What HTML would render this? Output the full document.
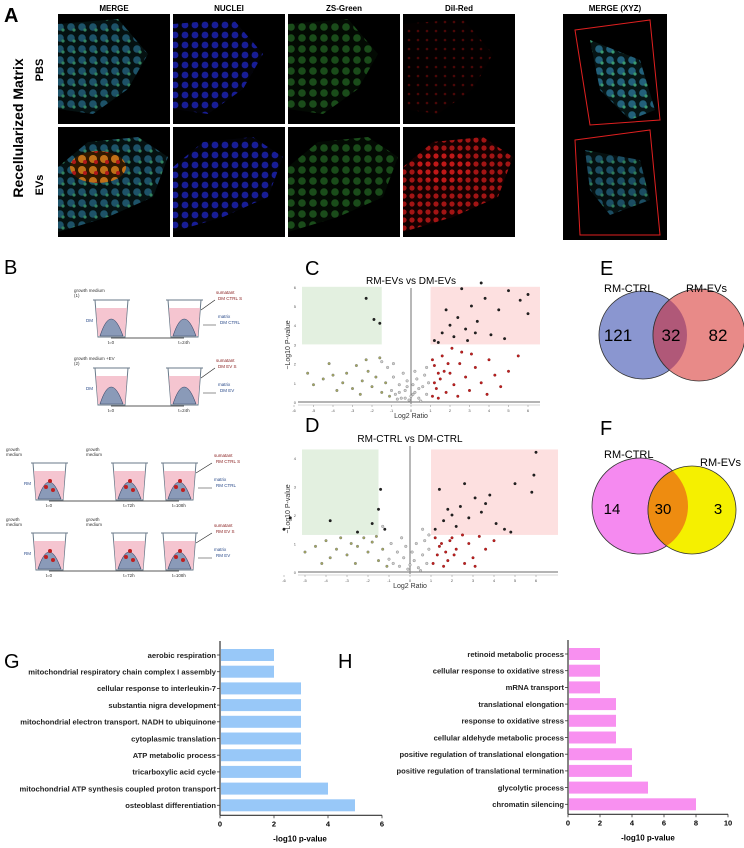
<!DOCTYPE html>
<html><head><meta charset="utf-8"><style>
html,body{margin:0;padding:0;background:#fff;width:744px;height:848px;overflow:hidden}
svg{display:block;font-family:"Liberation Sans",Arial,sans-serif}
</style></head><body>
<svg id="fig" width="744" height="848" viewBox="0 0 744 848" xmlns="http://www.w3.org/2000/svg">
<defs>
<pattern id="pBlue" width="10" height="10" patternUnits="userSpaceOnUse"><rect width="10" height="10" fill="#03030a"/><circle cx="5" cy="5" r="3.4" fill="#1c22b0"/></pattern>
<pattern id="pMerge" width="11" height="11" patternUnits="userSpaceOnUse"><rect width="11" height="11" fill="#061414"/><circle cx="5" cy="5" r="3.8" fill="#22607a"/><circle cx="8" cy="8" r="1.6" fill="#3a9a70"/></pattern>
<pattern id="pGreen" width="11" height="11" patternUnits="userSpaceOnUse"><rect width="11" height="11" fill="#040c04"/><circle cx="5" cy="5" r="3.8" fill="#1f5a1f"/></pattern>
<pattern id="pRed" width="9" height="9" patternUnits="userSpaceOnUse"><rect width="9" height="9" fill="#050000"/><circle cx="4" cy="4" r="1.3" fill="#5a0808"/></pattern>
<pattern id="pRedB" width="8" height="8" patternUnits="userSpaceOnUse"><rect width="8" height="8" fill="#180000"/><circle cx="4" cy="4" r="2.6" fill="#c01818"/></pattern>
<pattern id="pMergeEV" width="11" height="11" patternUnits="userSpaceOnUse"><rect width="11" height="11" fill="#301800"/><circle cx="5" cy="5" r="4" fill="#c07018"/><circle cx="8" cy="8" r="2" fill="#b01818"/></pattern>
</defs>
<g id="panelA"></g>
<g id="panelB"></g>
<g id="panelC"></g>
<g id="panelD"></g>
<g id="panelEF"></g>
<g id="panelG"></g>
<g id="panelH"></g>
</svg>
<script>
// ---------- Chart data ----------
const gCategories = ["aerobic respiration","mitochondrial respiratory chain complex I assembly","cellular response to interleukin-7","substantia nigra development","mitochondrial electron transport. NADH to ubiquinone","cytoplasmic translation","ATP metabolic process","tricarboxylic acid cycle","mitochondrial ATP synthesis coupled proton transport","osteoblast differentiation"];
const gValues = [2,2,3,3,3,3,3,3,4,5];
const gTicks = [0,2,4,6];
const hCategories = ["retinoid metabolic process","cellular response to oxidative stress","mRNA transport","translational elongation","response to oxidative stress","cellular aldehyde metabolic process","positive regulation of translational elongation","positive regulation of translational termination","glycolytic process","chromatin silencing"];
const hValues = [2,2,2,3,3,3,4,4,5,8];
const hTicks = [0,2,4,6,8,10];
const vennE = [121,32,82];
const vennF = [14,30,3];
// volcano C points [log2 ratio, -log10 p]
const cGrey = [[-0.8,0.4],[-0.5,0.2],[-0.3,0.6],[0,0.3],[0.2,0.5],[0.4,0.2],[0.6,0.8],[0.8,0.4],[-0.6,0.9],[-0.2,1.1],[0.1,0.9],[0.3,1.2],[-0.9,1.3],[-0.4,1.5],[0.7,1.4],[-1,0.6],[0.9,1.0],[-0.1,0.1],[0.5,0.05],[-0.7,0.15],[-1.2,1.8],[-1.5,2.1],[-0.9,2.0],[0.2,1.6],[0.8,1.8],[-0.3,0.2],[0.1,0.4],[-0.6,0.5],[0.4,0.7],[-0.2,0.8]];
const cGreen = [[-1.5,0.5],[-2,0.8],[-2.5,1.1],[-3,0.7],[-3.5,1.0],[-4,1.4],[-4.5,1.2],[-5,0.9],[-5.3,1.5],[-2.2,1.6],[-2.8,1.9],[-3.3,1.5],[-1.8,1.3],[-1.3,1.0],[-2.6,0.4],[-3.8,0.6],[-1.6,2.3],[-4.2,2.0],[-1.1,0.3],[-2.3,2.2]];
const cRed = [[1.1,0.3],[1.3,0.7],[1.5,1.2],[1.8,0.5],[2,1.5],[2.2,0.9],[2.5,2.0],[2.8,1.3],[3,0.6],[3.3,1.8],[3.6,1.0],[4,2.2],[4.3,1.4],[4.6,0.8],[1.2,1.9],[1.6,2.4],[2.1,2.8],[2.6,2.6],[1.4,0.2],[1.9,2.0],[3.1,2.5],[3.9,0.4],[5,1.6],[5.5,2.4],[1.7,1.6],[2.4,0.3],[1.2,1.0],[1.4,1.5],[1.1,2.2]];
const cBlack = [[1.2,3.2],[1.6,3.6],[2,4.0],[2.4,4.4],[2.8,3.8],[3.1,5.0],[3.4,4.2],[3.8,5.4],[4.1,3.5],[4.5,4.8],[5,5.8],[5.6,5.3],[6,5.6],[6,4.6],[2.6,5.9],[3.6,6.2],[1.8,4.8],[2.2,3.4],[4.8,3.3],[1.4,3.1],[-2.3,5.4],[-1.9,4.3],[-1.6,4.1],[2.9,3.2],[3.3,3.6]];
// volcano D points
const dGrey = [[-0.8,0.3],[-0.5,0.2],[-0.3,0.5],[0,0.25],[0.2,0.4],[0.4,0.15],[0.6,0.6],[0.8,0.3],[-0.6,0.7],[-0.2,0.9],[0.1,0.7],[0.3,1.0],[-0.9,1.0],[-0.4,1.2],[0.7,1.1],[-1,0.45],[0.9,0.8],[-0.1,0.1],[0.5,0.05],[0.6,1.5],[-1.3,1.6],[0.9,1.3]];
const dGreen = [[-1.5,0.4],[-2,0.7],[-2.5,0.9],[-3,0.6],[-3.5,0.8],[-4,1.1],[-4.5,0.9],[-5,0.7],[-2.2,1.2],[-2.8,1.0],[-3.3,1.2],[-1.8,1.05],[-1.3,0.8],[-2.6,0.3],[-3.8,0.5],[-1.6,1.25],[-4.2,0.3],[-1.1,0.2]];
const dRed = [[1.1,0.3],[1.3,0.6],[1.5,1.0],[1.8,0.4],[2,1.2],[2.2,0.8],[2.5,1.3],[2.8,1.0],[3,0.5],[3.3,1.25],[3.6,0.8],[4,1.1],[1.2,1.2],[1.6,0.2],[2.1,0.6],[2.6,0.3],[1.4,0.9],[1.9,1.1],[3.1,0.2],[1.7,0.7]];
const dBlack = [[1.2,1.5],[1.6,1.8],[2,2.0],[2.4,2.3],[2.8,1.9],[3.1,2.6],[3.4,2.1],[3.8,2.7],[4.1,1.7],[4.5,1.5],[5,3.1],[5.8,2.8],[6,4.2],[5.9,3.4],[2.6,3.1],[3.6,2.4],[1.8,2.2],[2.2,1.6],[4.8,1.4],[1.4,2.9],[-3.8,1.8],[-5.7,1.9],[-1.4,2.9],[-1.5,2.2],[-1.8,1.7],[-2.5,1.4],[-1.2,1.5],[-6,1.5]];

const NS="http://www.w3.org/2000/svg";
function el(parent,tag,attrs,text){const e=document.createElementNS(NS,tag);for(const k in attrs)e.setAttribute(k,attrs[k]);if(text!==undefined)e.textContent=text;parent.appendChild(e);return e;}

// ---------- Panel A ----------
(function(){
const g=document.getElementById('panelA');
let t=el(g,'text',{x:4,y:22,'font-size':20,'font-weight':'bold'},'A');


t=el(g,'text',{x:0,y:0,'font-size':14,'font-weight':'bold',transform:'translate(23,128) rotate(-90)','text-anchor':'middle'},'Recellularized Matrix');


[["PBS",70],["EVs",185]].forEach(r=>{const tt=el(g,'text',{x:0,y:0,'font-size':11,'font-weight':'bold',transform:`translate(43,${r[1]}) rotate(-90)`,'text-anchor':'middle'},r[0]);

});
const heads=["MERGE","NUCLEI","ZS-Green","DiI-Red"];
const xs=[58,173,288,403];
const fills=[["url(#pMerge)","url(#pBlue)","url(#pGreen)","url(#pRed)"],["url(#pMergeEV)","url(#pBlue)","url(#pGreen)","url(#pRedB)"]];
heads.forEach((h,i)=>{const tt=el(g,'text',{x:xs[i]+56,y:11,'font-size':8,'font-weight':'bold','text-anchor':'middle'},h);


for(let r=0;r<2;r++){const y=14+r*113;
const bg=el(g,'rect',{x:xs[i],y:y,width:112,height:110,fill:'#000'});


const blob=r===0?`M${xs[i]},${y+10} L${xs[i]+60},${y+5} L${xs[i]+90},${y+40} L${xs[i]+70},${y+75} L${xs[i]+35},${y+100} L${xs[i]},${y+95} Z`
:`M${xs[i]},${y+40} L${xs[i]+30},${y+15} L${xs[i]+80},${y+10} L${xs[i]+110},${y+30} L${xs[i]+95},${y+70} L${xs[i]+50},${y+90} L${xs[i]},${y+105} Z`;
el(g,'path',{d:blob,fill:(r===1&&i===0)?'url(#pMerge)':fills[r][i],opacity:0.85});
if(r===1&&(i===0||i===3)){el(g,'ellipse',{cx:xs[i]+40,cy:y+40,rx:28,ry:16,fill:fills[1][i]});}
}});
const tt=el(g,'text',{x:615,y:11,'font-size':8,'font-weight':'bold','text-anchor':'middle'},'MERGE (XYZ)');


const b=el(g,'rect',{x:563,y:14,width:104,height:226,fill:'#000'});


el(g,'path',{d:'M590,40 L640,60 L655,110 L630,120 L600,90 Z',fill:'url(#pMerge)'});
el(g,'path',{d:'M585,150 L640,160 L650,200 L610,215 L590,190 Z',fill:'url(#pMerge)',opacity:0.8});
el(g,'path',{d:'M575,30 L650,20 L660,120 L590,125 Z M575,140 L650,130 L660,235 L580,235 Z',fill:'none',stroke:'#e02020','stroke-width':1});
})();

// ---------- Panel B ----------
(function(){
const g=document.getElementById('panelB');
let t=el(g,'text',{x:4,y:274,'font-size':20},'B');


function beaker(x,y,red){
const bb=el(g,'g',{});


el(bb,'path',{d:`M${x-2},${y} L${x+35},${y} M${x},${y} L${x+3},${y+37} L${x+30},${y+37} L${x+33},${y}`,fill:'none',stroke:'#6a7a8a','stroke-width':1});
el(bb,'path',{d:`M${x+1},${y+8} L${x+32},${y+8} L${x+30},${y+36} L${x+3},${y+36} Z`,fill:'#f5c5d0'});
el(bb,'path',{d:`M${x+5},${y+36} Q${x+16},${y+2} ${x+28},${y+36} Z`,fill:'#8a9ab8',stroke:'#3a4a6a','stroke-width':0.6});
if(red){el(bb,'circle',{cx:x+13,cy:y+24,r:2,fill:'#c02020'});el(bb,'circle',{cx:x+20,cy:y+27,r:2,fill:'#c02020'});el(bb,'circle',{cx:x+17,cy:y+18,r:2,fill:'#c02020'});}
}
function tl(x,y,s,col,anchor){const tx=el(g,'text',{x:x,y:y,'font-size':4.5,fill:col||'#333','text-anchor':anchor||'start'},s);}
[[300,'DM CTRL S','DM CTRL','(1)','growth medium'],[368,'DM EV S','DM EV','(2)','growth medium +EV']].forEach(r=>{
const y=r[0];beaker(95,y);beaker(168,y);
el(g,'line',{x1:111,y1:y+38,x2:184,y2:y+38,stroke:'#222','stroke-width':0.8});
tl(111,y+44,'t=0','#333','middle');tl(184,y+44,'t=24h','#333','middle');
tl(86,y+22,'DM','#2a4a8a');tl(74,y-8,r[4]);tl(74,y-3,r[3]);
tl(216,y-6,'sumatant','#8a2020');tl(218,y,r[1],'#8a2020');tl(218,y+18,'matrix','#2a4a8a');tl(220,y+24,r[2],'#2a4a8a');
el(g,'path',{d:`M201,${y+10} L215,${y} M203,${y+25} L216,${y+25}`,stroke:'#222','stroke-width':0.6,fill:'none'});
});
[[463,'RM CTRL S','RM CTRL'],[533,'RM EV S','RM EV']].forEach(r=>{
const y=r[0];beaker(33,y,1);beaker(113,y,1);beaker(163,y,1);
el(g,'line',{x1:49,y1:y+38,x2:179,y2:y+38,stroke:'#222','stroke-width':0.8});
tl(49,y+44,'t=0','#333','middle');tl(129,y+44,'t=72h','#333','middle');tl(179,y+44,'t=108h','#333','middle');
tl(24,y+22,'RM','#2a4a8a');tl(6,y-12,'growth');tl(6,y-7,'medium');tl(86,y-12,'growth');tl(86,y-7,'medium');
tl(214,y-6,'sumatant','#8a2020');tl(216,y,r[1],'#8a2020');tl(214,y+18,'matrix','#2a4a8a');tl(216,y+24,r[2],'#2a4a8a');
el(g,'path',{d:`M196,${y+10} L212,${y} M198,${y+25} L212,${y+25}`,stroke:'#222','stroke-width':0.6,fill:'none'});
});
})();

// ---------- Volcano plots ----------
function volcano(id,cfg){
const g=document.getElementById(id);
const X=v=>cfg.x0+v*cfg.xu, Y=v=>cfg.y0-v*cfg.yu;
let t=el(g,'text',{x:cfg.lx,y:cfg.ly,'font-size':20},cfg.letter);


t=el(g,'text',{x:X(0),y:cfg.top-4,'font-size':10,'text-anchor':'middle'},cfg.title);


const gr=el(g,'rect',{x:cfg.left,y:Y(cfg.ymax),width:X(-1.5)-cfg.left,height:Y(cfg.thr)-Y(cfg.ymax),fill:'#e3f0e0'});


const rr=el(g,'rect',{x:X(1),y:Y(cfg.ymax),width:cfg.right-X(1),height:Y(cfg.thr)-Y(cfg.ymax),fill:'#fde0e0'});


el(g,'line',{x1:X(0),y1:cfg.top,x2:X(0),y2:cfg.y0+2,stroke:'#888','stroke-width':1.2});
const ax=el(g,'line',{x1:cfg.left-4,y1:cfg.y0,x2:cfg.right,y2:cfg.y0,stroke:'#888','stroke-width':1.2});


el(g,'line',{x1:cfg.left-4,y1:cfg.y0+3,x2:cfg.right,y2:cfg.y0+3,stroke:'#aaa','stroke-width':0.6});
for(let v=-6;v<=6;v++){el(g,'line',{x1:X(v),y1:cfg.y0+3,x2:X(v),y2:cfg.y0+5,stroke:'#888','stroke-width':0.5});
const tx=el(g,'text',{x:X(v),y:cfg.y0+10,'font-size':4,'text-anchor':'middle',fill:'#555'},String(v));}
for(let v=0;v<=cfg.ymax;v++){const tx=el(g,'text',{x:cfg.left-6,y:Y(v)+2,'font-size':4,'text-anchor':'end',fill:'#555'},String(v));}
t=el(g,'text',{x:X(0),y:cfg.y0+16,'font-size':7,'text-anchor':'middle',fill:'#333'},'Log2 Ratio');


t=el(g,'text',{x:0,y:0,'font-size':7,'text-anchor':'middle',fill:'#333',transform:`translate(${cfg.left-12},${(cfg.top+cfg.y0)/2}) rotate(-90)`},'\u2212Log10 P-value');


[[cfg.grey,'#d0d0d0','#555'],[cfg.green,'#a4a860','#556'],[cfg.red,'#c02020','#600'],[cfg.black,'#222','#000']].forEach(s=>{
s[0].forEach(p=>{const c=el(g,'circle',{cx:X(p[0]),cy:Y(p[1]),r:1.3,fill:s[1],stroke:s[2],'stroke-width':0.3});

});});
}
volcano('panelC',{letter:'C',lx:305,ly:275,title:'RM-EVs vs DM-EVs',x0:411,xu:19.5,y0:402,yu:19.2,ymax:6,thr:3,top:288,left:302,right:540,grey:cGrey,green:cGreen,red:cRed,black:cBlack});
volcano('panelD',{letter:'D',lx:305,ly:432,title:'RM-CTRL vs DM-CTRL',x0:410,xu:21,y0:572,yu:28.5,ymax:4.3,thr:1.3,top:446,left:302,right:558,grey:dGrey,green:dGreen,red:dRed,black:dBlack});

// ---------- Venn ----------
(function(){
const g=document.getElementById('panelEF');
function venn(cfg,vals){
let t=el(g,'text',{x:cfg.lx,y:cfg.ly,'font-size':20},cfg.letter);


const c1=el(g,'circle',{cx:cfg.c1[0],cy:cfg.c1[1],r:cfg.c1[2],fill:cfg.f1,stroke:'#333','stroke-width':0.8});


const c2=el(g,'circle',{cx:cfg.c2[0],cy:cfg.c2[1],r:cfg.c2[2],fill:cfg.f2,stroke:'#333','stroke-width':0.8});


const cid='clip'+cfg.letter;
const cp=el(g,'clipPath',{id:cid});el(cp,'circle',{cx:cfg.c1[0],cy:cfg.c1[1],r:cfg.c1[2]});
el(g,'circle',{cx:cfg.c2[0],cy:cfg.c2[1],r:cfg.c2[2],fill:cfg.f3,'clip-path':`url(#${cid})`,stroke:'#333','stroke-width':0.8});
cfg.labels.forEach(l=>{const tx=el(g,'text',{x:l[0],y:l[1],'font-size':11,'text-anchor':'start'},l[2]);});
vals.forEach((v,i)=>{const tx=el(g,'text',{x:cfg.nx[i],y:cfg.ny,'font-size':cfg.fs,'text-anchor':'middle'},String(v));});
}
venn({letter:'E',lx:600,ly:275,c1:[643,335,44],c2:[699,335,46],f1:'#8a96d0',f2:'#e88a88',f3:'#b05878',labels:[[604,292,'RM-CTRL'],[686,292,'RM-EVs']],nx:[618,671,718],ny:341,fs:17},vennE);
venn({letter:'F',lx:600,ly:435,c1:[640,506,48],c2:[692,510,44],f1:'#f58af0',f2:'#f5f000',f3:'#ee8c10',labels:[[604,458,'RM-CTRL'],[700,466,'RM-EVs']],nx:[612,663,718],ny:514,fs:15},vennF);
})();

// ---------- Bar charts ----------
function barChart(id,cfg,cats,vals,ticks){
const g=document.getElementById(id);
const X=v=>cfg.x0+v*cfg.xu;
let t=el(g,'text',{x:cfg.lx,y:cfg.ly,'font-size':20},cfg.letter);


const step=16.7;
cats.forEach((c,i)=>{const y=cfg.y0+i*step;
const b=el(g,'rect',{x:X(0)+1,y:y-6,width:X(vals[i])-X(0)-1,height:12,fill:cfg.color});


el(g,'line',{x1:X(0)-3,y1:y,x2:X(0),y2:y,stroke:'#333','stroke-width':0.8});
const tx=el(g,'text',{x:X(0)-4,y:y+2.8,'font-size':7.6,'font-weight':'bold','text-anchor':'end',fill:'#222'},c);

});
const yb=cfg.y0+9*step+10;
const ya=el(g,'line',{x1:X(0),y1:cfg.y0-14,x2:X(0),y2:yb,stroke:'#333','stroke-width':1.2});


const xa=el(g,'line',{x1:X(0),y1:yb,x2:X(ticks[ticks.length-1]),y2:yb,stroke:'#333','stroke-width':1.2});


ticks.forEach(v=>{el(g,'line',{x1:X(v),y1:yb,x2:X(v),y2:yb+3,stroke:'#333','stroke-width':0.8});
const tx=el(g,'text',{x:X(v),y:yb+11,'font-size':7.5,'font-weight':'bold','text-anchor':'middle'},String(v));

});
t=el(g,'text',{x:cfg.tx,y:yb+26,'font-size':8,'font-weight':'bold','text-anchor':'middle'},'-log10 p-value');


}
barChart('panelG',{letter:'G',lx:4,ly:668,x0:220,xu:27,y0:655,color:'#98c8f8',tx:300},gCategories,gValues,gTicks);
barChart('panelH',{letter:'H',lx:338,ly:668,x0:568,xu:16,y0:654,color:'#f890f0',tx:648},hCategories,hValues,hTicks);
</script>
</body></html>
